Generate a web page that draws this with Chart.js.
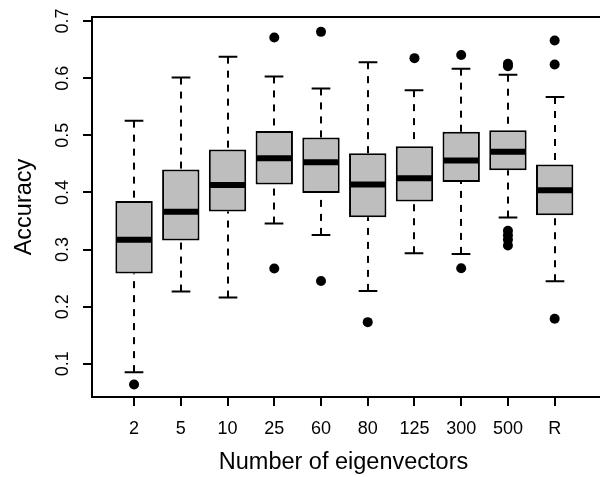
<!DOCTYPE html>
<html>
<head>
<meta charset="utf-8">
<script src="https://cdn.jsdelivr.net/npm/chart.js@4"></script>
<style>
html,body{margin:0;padding:0;background:#ffffff;}
#wrap{width:600px;height:477px;position:relative;}
</style>
</head>
<body>
<div id="wrap"><canvas id="c" width="600" height="477"></canvas></div>
<script>
// ---- data ----
const categories = ['2', '5', '10', '25', '60', '80', '125', '300', '500', 'R'];
const whiskerLow  = [0.0855, 0.2265, 0.216, 0.3455, 0.3257, 0.2277, 0.2936, 0.2924, 0.356, 0.2446];
const q1          = [0.258, 0.316, 0.3665, 0.414, 0.399, 0.3566, 0.384, 0.4184, 0.439, 0.360];
const median      = [0.317, 0.366, 0.413, 0.460, 0.453, 0.414, 0.425, 0.456, 0.471, 0.404];
const q3          = [0.385, 0.440, 0.475, 0.5076, 0.496, 0.4685, 0.481, 0.5064, 0.509, 0.4487];
const whiskerHigh = [0.5256, 0.601, 0.6376, 0.603, 0.582, 0.628, 0.579, 0.6166, 0.606, 0.567];
const outliers = [
  [0.064],
  [],
  [],
  [0.671, 0.267],
  [0.681, 0.245],
  [0.173],
  [0.635],
  [0.6405, 0.2674],
  [0.625, 0.621, 0.333, 0.325, 0.317, 0.307],
  [0.666, 0.624, 0.179]
];
const yTicks = [0.1, 0.2, 0.3, 0.4, 0.5, 0.6, 0.7];
const yTickLabels = ['0.1', '0.2', '0.3', '0.4', '0.5', '0.6', '0.7'];
const xTitle = 'Number of eigenvectors';
const yTitle = 'Accuracy';

// ---- styling ----
const FONT = '"Liberation Sans", Arial, Helvetica, sans-serif';
const BOX_WEX = 0.8;
const BOX_FILL = '#bebebe';

const boxData = categories.map((c, i) => ({ x: i + 1, y: [q1[i], q3[i]] }));
const outlierPoints = [];
outliers.forEach((arr, i) => arr.forEach(v => outlierPoints.push({ x: i + 1, y: v })));

const boxPlugin = {
  id: 'boxExtras',
  beforeDatasetsDraw(chart) {
    const { ctx, scales: { x, y } } = chart;
    const half = x.getPixelForValue(1 + BOX_WEX / 2) - x.getPixelForValue(1);
    ctx.save();
    ctx.strokeStyle = '#000';
    ctx.lineWidth = 2;
    ctx.lineCap = 'butt';
    categories.forEach((c, i) => {
      const px = Math.round(x.getPixelForValue(i + 1));
      ctx.setLineDash([7, 7]);
      ctx.beginPath();
      ctx.moveTo(px, y.getPixelForValue(whiskerHigh[i]));
      ctx.lineTo(px, y.getPixelForValue(q3[i]));
      ctx.stroke();
      ctx.beginPath();
      ctx.moveTo(px, y.getPixelForValue(whiskerLow[i]));
      ctx.lineTo(px, y.getPixelForValue(q1[i]));
      ctx.stroke();
      ctx.setLineDash([]);
      ctx.beginPath();
      const yh = y.getPixelForValue(whiskerHigh[i]);
      const yl = y.getPixelForValue(whiskerLow[i]);
      ctx.moveTo(px - half / 2, yh); ctx.lineTo(px + half / 2, yh);
      ctx.moveTo(px - half / 2, yl); ctx.lineTo(px + half / 2, yl);
      ctx.stroke();
    });
    ctx.restore();
  },
  afterDatasetsDraw(chart) {
    const { ctx, scales: { x, y } } = chart;
    const half = x.getPixelForValue(1 + BOX_WEX / 2) - x.getPixelForValue(1);
    ctx.save();
    ctx.strokeStyle = '#000';
    ctx.lineWidth = 6;
    ctx.lineCap = 'butt';
    categories.forEach((c, i) => {
      const px = x.getPixelForValue(i + 1);
      const py = y.getPixelForValue(median[i]);
      ctx.beginPath();
      ctx.moveTo(px - half + 1, py);
      ctx.lineTo(px + half - 1, py);
      ctx.stroke();
    });
    ctx.restore();
  },
  afterDraw(chart) {
    const { ctx, chartArea: a, scales: { y } } = chart;
    ctx.save();
    ctx.strokeStyle = '#000';
    ctx.lineWidth = 2;
    ctx.lineJoin = 'miter';
    ctx.beginPath();
    ctx.moveTo(a.right + 6, a.top);
    ctx.lineTo(a.left, a.top);
    ctx.lineTo(a.left, a.bottom);
    ctx.lineTo(a.right + 6, a.bottom);
    ctx.stroke();
    // y tick labels, parallel to the axis
    ctx.fillStyle = '#000';
    ctx.font = '18px ' + FONT;
    ctx.textAlign = 'center';
    ctx.textBaseline = 'middle';
    y.ticks.forEach((t) => {
      const py = y.getPixelForValue(t.value);
      ctx.save();
      ctx.translate(63, py);
      ctx.rotate(-Math.PI / 2);
      ctx.fillText(yTickLabels[yTicks.indexOf(t.value)] ?? t.label, 0, 0);
      ctx.restore();
    });
    ctx.restore();
  }
};

new Chart(document.getElementById('c'), {
  type: 'bar',
  data: {
    datasets: [
      {
        type: 'bar',
        data: boxData,
        backgroundColor: BOX_FILL,
        borderColor: '#000',
        borderWidth: 2,
        borderSkipped: false,
        categoryPercentage: 1,
        barPercentage: BOX_WEX,
        order: 2
      },
      {
        type: 'scatter',
        data: outlierPoints,
        pointRadius: 5,
        pointBackgroundColor: '#000',
        pointBorderColor: '#000',
        pointBorderWidth: 0,
        showLine: false,
        order: 1
      }
    ]
  },
  options: {
    responsive: false,
    animation: false,
    devicePixelRatio: 1,
    layout: { padding: { top: 17, left: 0, right: 0, bottom: 0 } },
    plugins: { legend: { display: false }, tooltip: { enabled: false } },
    scales: {
      x: {
        type: 'linear',
        offset: false,
        min: 0.1,
        max: 10.863,
        afterBuildTicks: s => { s.ticks = categories.map((c, i) => ({ value: i + 1 })); },
        afterFit: s => { s.height = 80; },
        ticks: {
          callback: v => categories[Math.round(v) - 1] ?? '',
          font: { size: 18, family: FONT },
          color: '#000',
          padding: 12,
          maxRotation: 0,
          minRotation: 0,
          autoSkip: false
        },
        grid: { display: true, offset: false, drawOnChartArea: false, drawTicks: true, tickLength: 9, color: '#000', lineWidth: 2 },
        border: { display: true, color: '#000', width: 2 },
        title: { display: true, text: xTitle, font: { size: 23.5, family: FONT }, color: '#000', padding: { top: 0, bottom: 0 } }
      },
      y: {
        type: 'linear',
        min: 0.042,
        max: 0.707,
        afterBuildTicks: s => { s.ticks = yTicks.map(v => ({ value: v })); },
        afterFit: s => { s.width = 92; },
        ticks: { display: false, callback: v => String(v) },
        grid: { display: true, drawOnChartArea: false, drawTicks: true, tickLength: 9, color: '#000', lineWidth: 2 },
        border: { display: true, color: '#000', width: 2 },
        title: { display: true, text: yTitle, font: { size: 23.5, family: FONT }, color: '#000', padding: { top: 10, bottom: 0 } }
      }
    }
  },
  plugins: [boxPlugin]
});
</script>
</body>
</html>
